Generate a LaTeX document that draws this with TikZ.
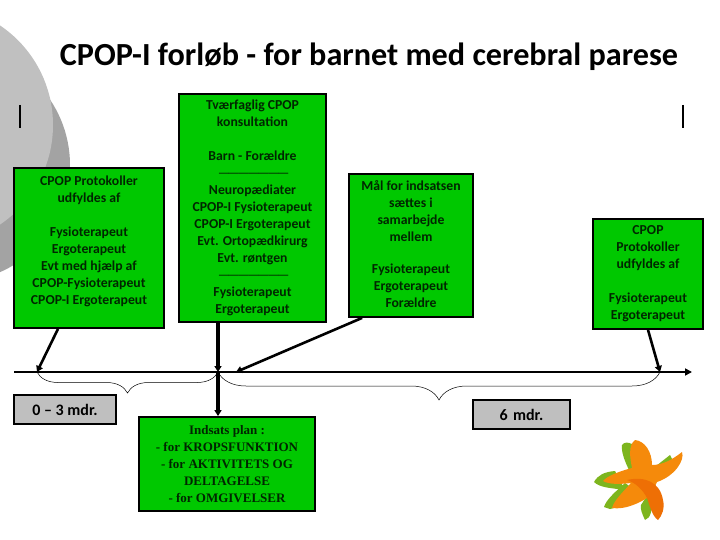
\documentclass[tikz,border=0pt]{standalone}
\usepackage{fontspec}
\setmainfont{Carlito}
\newfontfamily\planfont{Liberation Serif}
\usetikzlibrary{decorations.pathreplacing,arrows.meta}
\definecolor{BoxGreen}{HTML}{00C800}
\definecolor{BoxGray}{HTML}{BFBFBF}
\definecolor{DiscLight}{HTML}{C0C0C0}
\definecolor{DiscDark}{HTML}{A3A3A3}
\definecolor{StarOrange}{HTML}{F58A0B}
\definecolor{StarDeep}{HTML}{EE6F05}
\definecolor{StarGreen}{HTML}{7DB51E}
\newcommand{\dashline}{{\mdseries\foreach \n in {1,...,7} {—\kern-2.5pt}}}
\tikzset{
  greenbox/.style={draw=black,line width=1.8pt,fill=BoxGreen,align=center,inner sep=0pt,
    font=\fontsize{13.7}{17}\selectfont\bfseries,text=black!85!green},
  graybox/.style={draw=black,line width=1.8pt,fill=BoxGray,inner sep=0pt,
    font=\fontsize{16}{17}\selectfont\bfseries},
  flowarrow/.style={line width=2.6pt,-{Triangle[length=6pt,width=7pt]}},
  spanbrace/.style={decorate,decoration={brace,mirror,amplitude=#1,aspect=0.5},line width=0.5pt},
}
\begin{document}
\begin{tikzpicture}[x=1pt,y=-1pt]
  \useasboundingbox (0,0) rectangle (720,540);
  % corner discs
  \begin{scope}
    \clip (0,0) rectangle (720,540);
    \fill[DiscDark] (-47,165) circle (117);
    \fill[DiscLight] (-67,125) circle (120);
  \end{scope}
  \node[font=\fontsize{32.2}{34}\selectfont\bfseries] (title) at (369,57) {CPOP-I forløb - for barnet med cerebral parese};
  \draw[line width=1.6pt] (20,105) -- (20,128);
  \draw[line width=1.6pt] (683,105) -- (683,128);
  % boxes
  \node[greenbox,minimum width=150pt,minimum height=160pt] (protoleft) at (89,248)
    {CPOP Protokoller\\udfyldes af\\[17pt]Fysioterapeut\\Ergoterapeut\\Evt med hjælp af\\CPOP-Fysioterapeut\\CPOP-I Ergoterapeut\\[-2pt]\mbox{}};
  \node[greenbox,minimum width=147pt,minimum height=228pt] (consult) at (252.5,208)
    {Tværfaglig CPOP\\konsultation\\[17pt]Barn - Forældre\\\dashline\\Neuropædiater\\CPOP-I Fysioterapeut\\CPOP-I Ergoterapeut\\Evt. Ortopædkirurg\\Evt. røntgen\\\dashline\\Fysioterapeut\\Ergoterapeut};
  \node[greenbox,minimum width=124pt,minimum height=143pt] (goal) at (411,245.5)
    {Mål for indsatsen\\sættes i\\samarbejde\\mellem\\[15pt]Fysioterapeut\\Ergoterapeut\\Forældre\\[-15pt]\mbox{}};
  \node[greenbox,minimum width=110pt,minimum height=110pt] (protoright) at (648,274)
    {CPOP\\Protokoller\\udfyldes af\\[17pt]Fysioterapeut\\Ergoterapeut};
  \node[greenbox,minimum width=176pt,minimum height=94pt,font=\fontsize{13}{17}\selectfont\bfseries\planfont] (plan) at (227,464)
    {Indsats plan :\\- for KROPSFUNKTION\\- for  AKTIVITETS OG\\DELTAGELSE\\- for  OMGIVELSER};
  \node[graybox,minimum width=102pt,minimum height=29pt] (early) at (65,409.5) {0 – 3 mdr.};
  \node[graybox,minimum width=97pt,minimum height=29pt] (late) at (521.5,414.5) {6\,\,mdr.};
  % time line
  \coordinate (start) at (14,372);
  \coordinate (stop) at (692,372);
  \coordinate (mark1) at (37,372);
  \coordinate (mark2) at (218,372);
  \coordinate (mark3) at (236,372);
  \coordinate (mark4) at (660,372);
  \draw[line width=1.7pt,-{Triangle[length=7pt,width=7pt]}] (start) -- (stop);
  \draw[flowarrow] ([xshift=-31pt]protoleft.south) -- (mark1);
  \draw[flowarrow,line width=3.2pt] (consult.south -| mark2) -- (mark2);
  \draw[flowarrow] ([xshift=14pt]goal.south west) -- (mark3);
  \draw[flowarrow] (protoright.south) -- (mark4);
  \draw[flowarrow,line width=3.2pt] (mark2) -- (plan.north -| mark2);
  \draw[spanbrace=21pt] (mark1) -- (mark2);
  \draw[spanbrace=28pt] (mark2) -- (mark4);
  % star
  \fill[StarGreen] (594,482) .. controls (598,475) and (604,472) .. (615,471) -- (625,490) .. controls (612,488) and (600,488) .. (594,482) -- cycle;
  \fill[StarGreen] (604,507) .. controls (606,500) and (615,492) .. (625,483) -- (635,490) .. controls (628,500) and (618,508) .. (610,509) -- cycle;
  \fill[StarGreen] (622,445) .. controls (624,442) and (628,442) .. (632,444) -- (640,470) -- (630,472) .. controls (625,462) and (621,452) .. (622,445) -- cycle;
  \fill[StarGreen] (645,520) .. controls (642,514) and (640,508) .. (641,505) -- (648,494) -- (652,500) .. controls (652,510) and (651,518) .. (645,520) -- cycle;
  \fill[StarGreen] (670,455) -- (656,466) -- (664,470) -- (673,461) -- cycle;
  \fill[StarOrange] (603,481) .. controls (607,476) and (620,471) .. (632,468) .. controls (630,458) and (628,445) .. (635,440) .. controls (645,441) and (652,452) .. (652,465) .. controls (662,465) and (672,460) .. (682,452) .. controls (685,460) and (675,476) .. (657,482) -- (650,496) .. controls (640,503) and (625,510) .. (612,508) .. controls (614,500) and (625,490) .. (631,483) .. controls (622,484) and (610,485) .. (603,481) -- cycle;
  \fill[StarDeep] (627,480) .. controls (645,476) and (660,482) .. (663,500) .. controls (665,508) and (662,516) .. (658,520) .. controls (652,516) and (650,506) .. (647,498) .. controls (643,490) and (636,483) .. (627,480) -- cycle;
\end{tikzpicture}
\end{document}
